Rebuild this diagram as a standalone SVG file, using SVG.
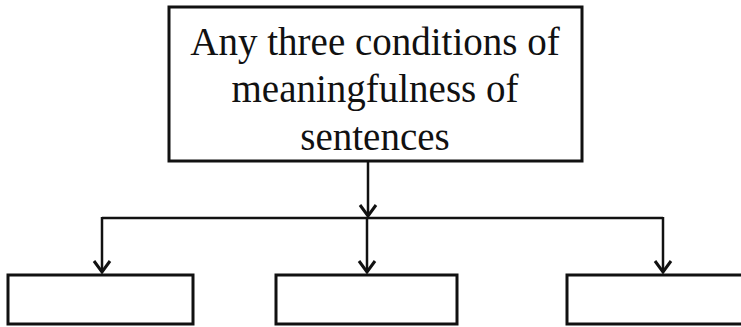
<svg xmlns="http://www.w3.org/2000/svg" width="741" height="327" viewBox="0 0 741 327">
<defs>
<style>
.box{fill:#fff;stroke:#111;stroke-width:3}
.ln{fill:none;stroke:#111;stroke-width:2.5}
.t{font-family:"Liberation Serif","Times New Roman",serif;font-size:39px;fill:#111;text-anchor:middle}
</style>
<marker id="ah" viewBox="0 0 20 20" refX="18" refY="10" markerWidth="20" markerHeight="20" markerUnits="userSpaceOnUse" orient="auto">
<path d="M7,2 L18,10 L7,18" fill="none" stroke="#111" stroke-width="3"/>
</marker>
</defs>
<rect width="741" height="327" fill="#fff"/>
<g id="connectors">
<line class="ln" x1="368" y1="161" x2="368" y2="216" marker-end="url(#ah)"/>
<polyline class="ln" points="102,218 663,218"/>
<line class="ln" x1="102" y1="217" x2="102" y2="272" marker-end="url(#ah)"/>
<line class="ln" x1="367" y1="218" x2="367" y2="272" marker-end="url(#ah)"/>
<line class="ln" x1="663" y1="217" x2="663" y2="272" marker-end="url(#ah)"/>
</g>
<g id="top">
<rect class="box" x="169" y="7" width="413" height="154"/>
<text class="t" x="375" y="55">Any three conditions of</text>
<text class="t" x="375" y="102">meaningfulness of</text>
<text class="t" x="375" y="150">sentences</text>
</g>
<g id="left"><rect class="box" x="8" y="275" width="185" height="49"/></g>
<g id="middle"><rect class="box" x="276" y="275" width="181" height="49"/></g>
<g id="right"><rect class="box" x="567" y="275" width="180" height="49"/></g>
</svg>
